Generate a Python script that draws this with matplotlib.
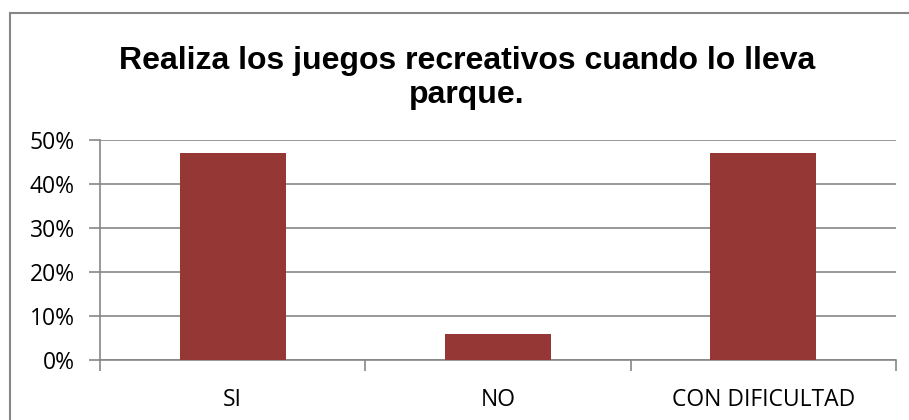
import matplotlib
matplotlib.use("Agg")
import matplotlib.pyplot as plt
from matplotlib.patches import Rectangle
from matplotlib.ticker import FuncFormatter, MultipleLocator

categories = ["SI", "NO", "CON DIFICULTAD"]
values = [0.47, 0.06, 0.47]
title = "Realiza los juegos recreativos cuando lo lleva\nparque."

W, H = 909, 420
fig = plt.figure(figsize=(W / 100, H / 100), dpi=100)
fig.patch.set_facecolor("white")

# outer chart border (extends past right/bottom edge)
fig.patches.append(Rectangle((10 / W, -0.1), 1.2, (H - 13) / H + 0.1,
                             transform=fig.transFigure, fill=False,
                             edgecolor="#868686", linewidth=1.5))

left, right, top, bottom = 100, 896, 140, 360
ax = fig.add_axes([left / W, 1 - bottom / H, (right - left) / W, (bottom - top) / H])

x = range(len(categories))
ax.bar(x, values, width=0.4, color="#953735", zorder=3)
ax.set_xlim(-0.5, len(categories) - 0.5)
ax.set_ylim(0, 0.5)
ax.yaxis.set_major_locator(MultipleLocator(0.1))
ax.yaxis.set_major_formatter(FuncFormatter(lambda v, p: f"{v*100:.0f}%"))
ax.grid(axis="y", color="#868686", linewidth=1.2, zorder=0)

for s in ["top", "right"]:
    ax.spines[s].set_visible(False)
for s in ["left", "bottom"]:
    ax.spines[s].set_color("#868686")
    ax.spines[s].set_linewidth(1.2)

ax.set_xticks(list(x))
ax.set_xticklabels(categories)
ax.set_xticks([-0.5, 0.5, 1.5, 2.5], minor=True)
ax.tick_params(axis="x", which="major", length=0, pad=20)
ax.tick_params(axis="x", which="minor", length=8, color="#868686", width=1.2)
ax.tick_params(axis="y", length=8, color="#868686", width=1.2, pad=10)
for lab in ax.get_xticklabels() + ax.get_yticklabels():
    lab.set_fontfamily("Open Sans")
    lab.set_fontsize(16.5)
    lab.set_color("black")

fig.text(467 / W, 1 - 78 / H, title, ha="center", va="center",
         fontfamily="Liberation Sans", fontweight="bold", fontsize=23,
         linespacing=1.2)

fig.savefig("out.png", dpi=100)
